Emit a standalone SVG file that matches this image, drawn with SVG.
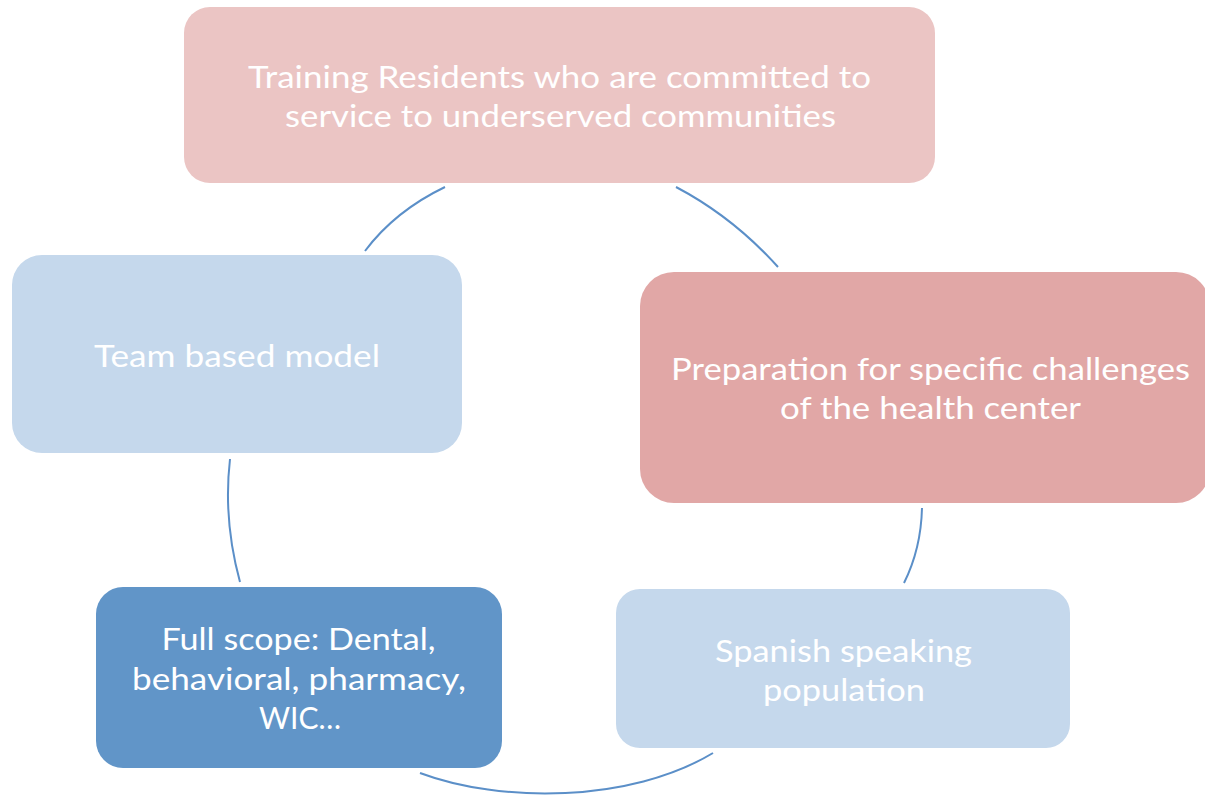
<svg xmlns="http://www.w3.org/2000/svg" width="1205" height="795" viewBox="0 0 1205 795">
<style>
.lbl{font-family:Lato,"Open Sans","Liberation Sans",sans-serif;font-size:31px;fill:#ffffff;}
.arc{fill:none;stroke:#5B8FC8;stroke-width:2;}
</style>
<rect width="1205" height="795" fill="#ffffff"/>
<g id="connectors">
<path class="arc" d="M445,187 Q395,211 365,251"/>
<path class="arc" d="M676,187 Q733,217 778,267"/>
<path class="arc" d="M922,508 Q921,549 904,583"/>
<path class="arc" d="M420,773 C500,803 630,803 713,753"/>
<path class="arc" d="M230,459 Q223,520 240,582"/>
</g>
<g id="node-training">
<rect x="184" y="7" width="751" height="176" rx="26" fill="#EBC5C4"/>
<text class="lbl" x="559.5" y="88" text-anchor="middle" textLength="623" lengthAdjust="spacingAndGlyphs">Training Residents who are committed to</text>
<text class="lbl" x="560.5" y="127" text-anchor="middle" textLength="551" lengthAdjust="spacingAndGlyphs">service to underserved communities</text>
</g>
<g id="node-preparation">
<rect x="640" y="272" width="570" height="231" rx="34" fill="#E1A7A6"/>
<text class="lbl" x="930.5" y="380" text-anchor="middle" textLength="519" lengthAdjust="spacingAndGlyphs">Preparation for specific challenges</text>
<text class="lbl" x="930.5" y="419" text-anchor="middle" textLength="301" lengthAdjust="spacingAndGlyphs">of the health center</text>
</g>
<g id="node-spanish">
<rect x="616" y="589" width="454" height="159" rx="24" fill="#C5D8EC"/>
<text class="lbl" x="843.5" y="662" text-anchor="middle" textLength="257" lengthAdjust="spacingAndGlyphs">Spanish speaking</text>
<text class="lbl" x="844" y="701" text-anchor="middle" textLength="162" lengthAdjust="spacingAndGlyphs">population</text>
</g>
<g id="node-fullscope">
<rect x="96" y="587" width="406" height="181" rx="27" fill="#6195C8"/>
<text class="lbl" x="298.5" y="650" text-anchor="middle" textLength="274" lengthAdjust="spacingAndGlyphs">Full scope: Dental,</text>
<text class="lbl" x="299" y="690" text-anchor="middle" textLength="334" lengthAdjust="spacingAndGlyphs">behavioral, pharmacy,</text>
<text class="lbl" x="300" y="729" text-anchor="middle" textLength="82" lengthAdjust="spacingAndGlyphs">WIC…</text>
</g>
<g id="node-team">
<rect x="12" y="255" width="450" height="198" rx="30" fill="#C5D8EC"/>
<text class="lbl" x="237" y="367" text-anchor="middle" textLength="286" lengthAdjust="spacingAndGlyphs">Team based model</text>
</g>
</svg>
